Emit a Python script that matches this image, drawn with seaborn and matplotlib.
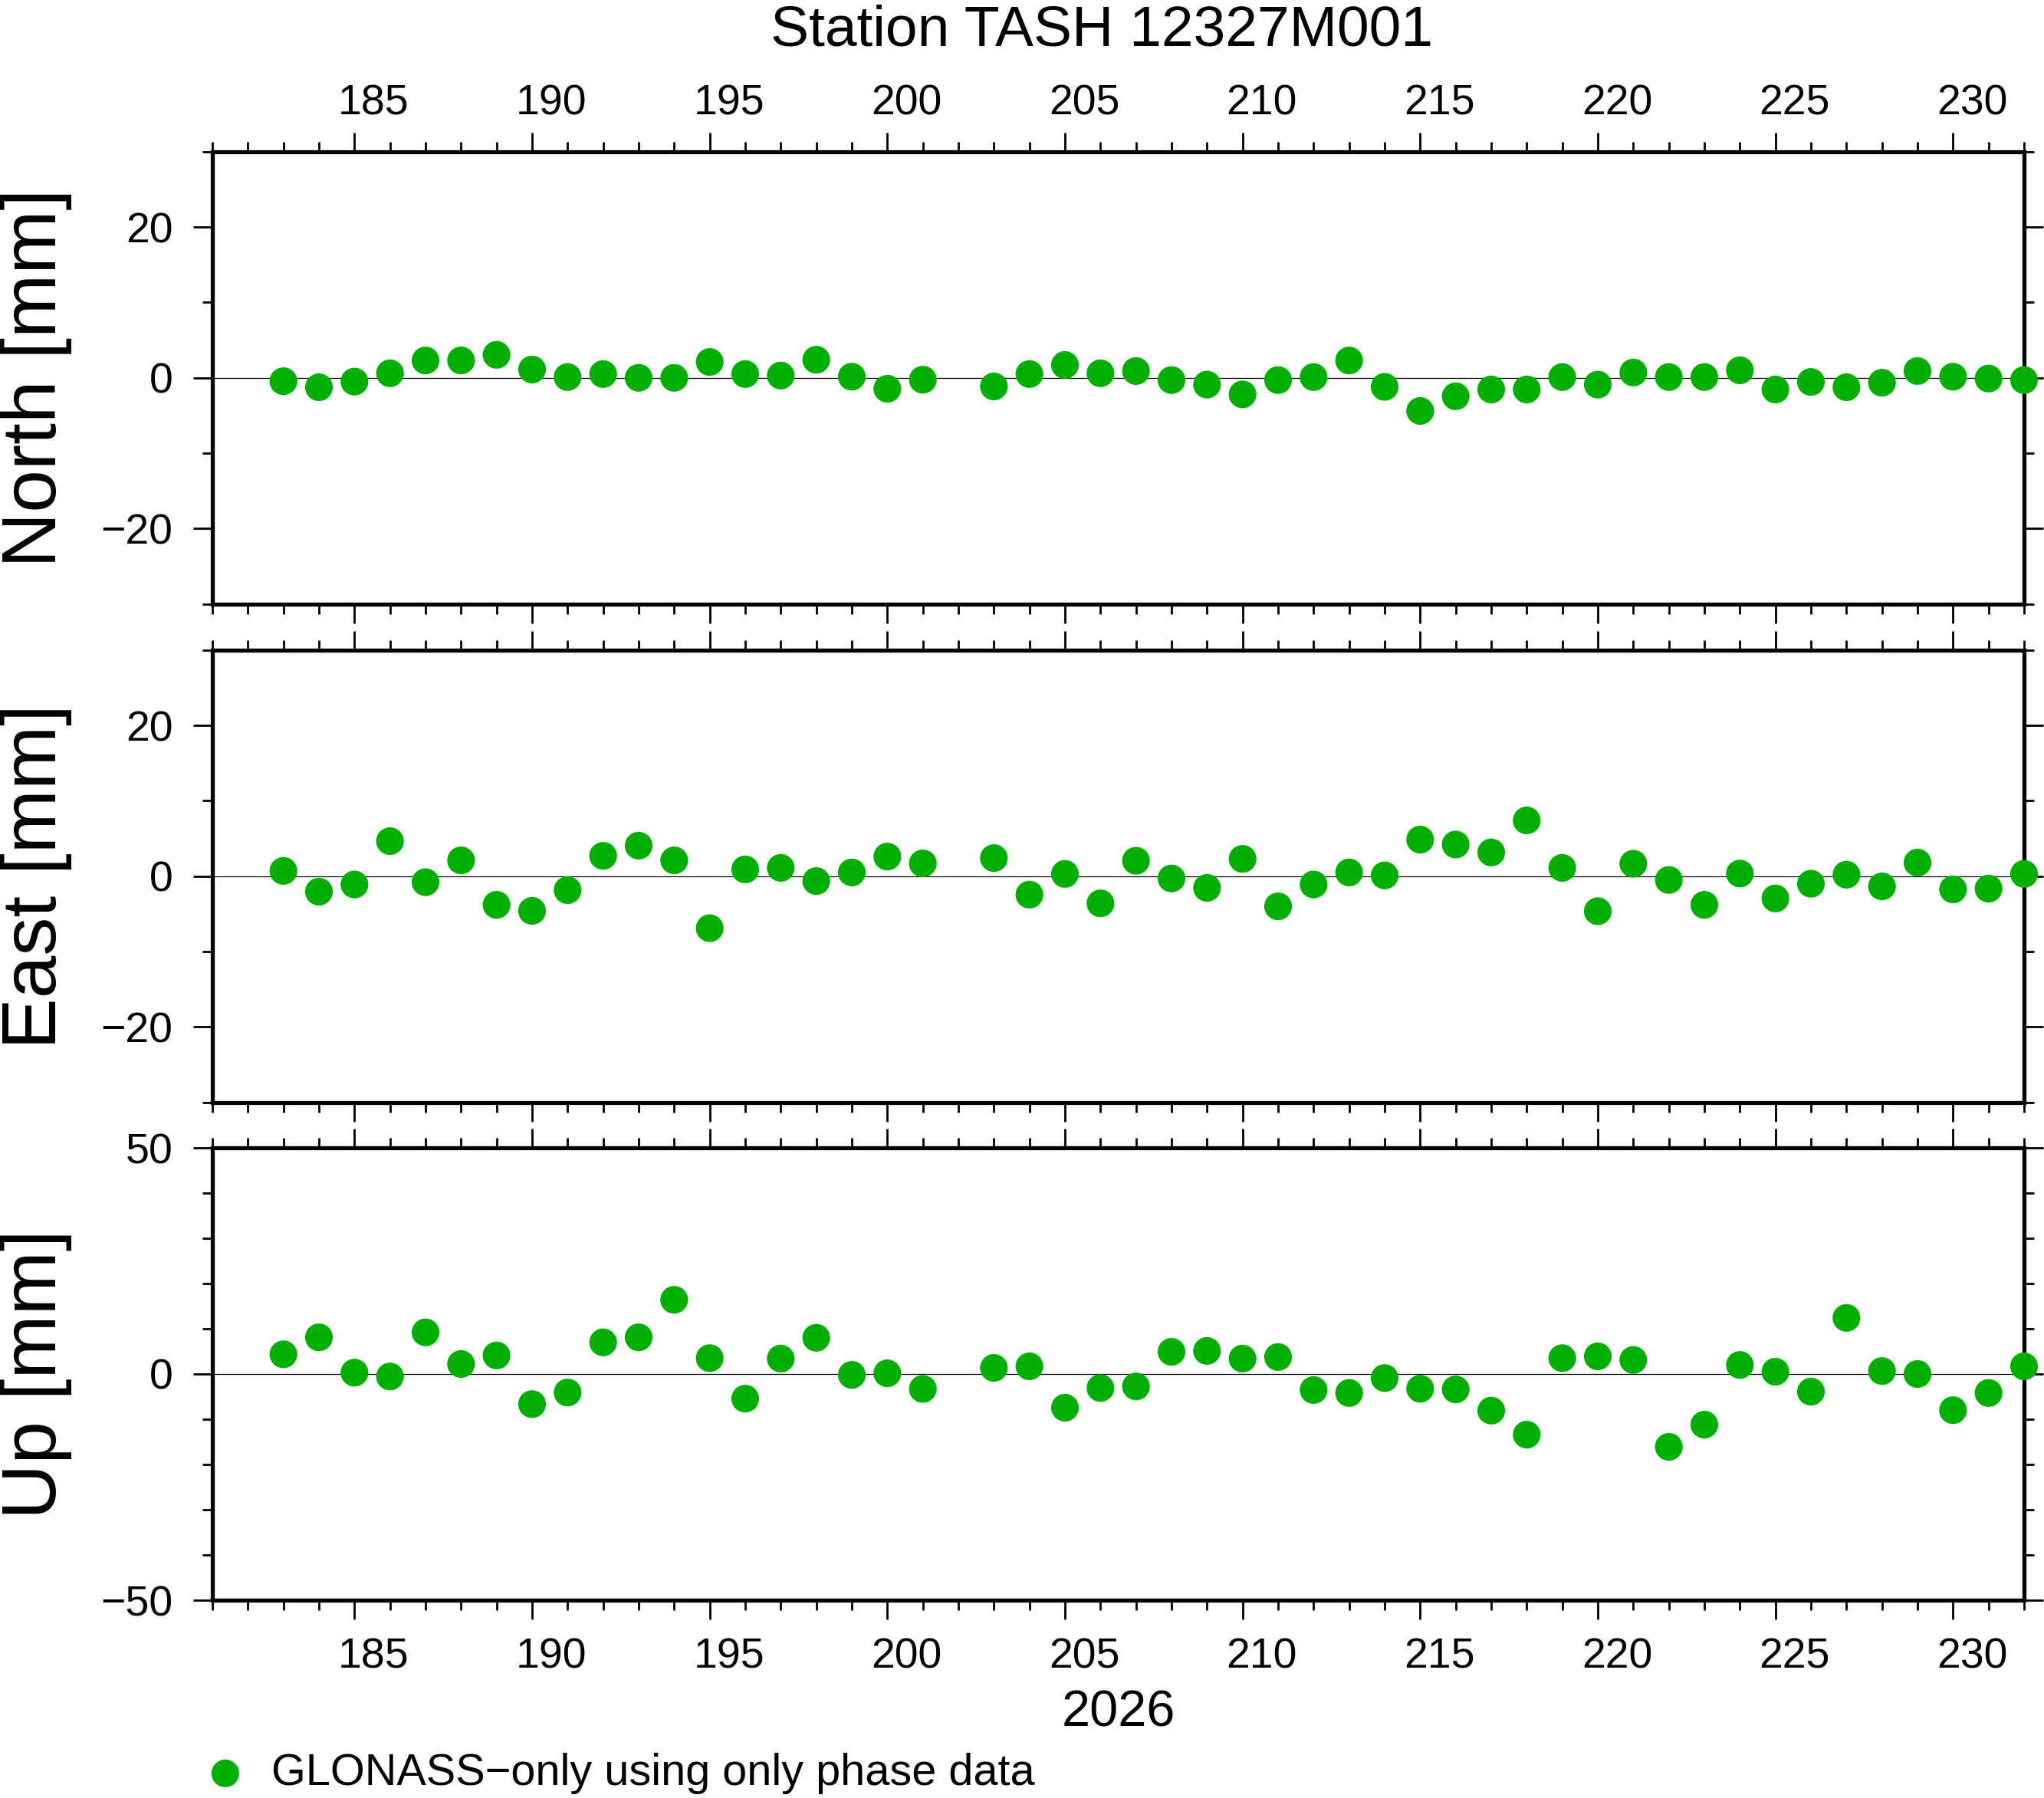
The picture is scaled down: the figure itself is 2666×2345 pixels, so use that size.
import matplotlib
matplotlib.use("Agg")
import matplotlib.pyplot as plt
import matplotlib.transforms as mtransforms
from matplotlib.ticker import MultipleLocator, FixedLocator
import seaborn as sns
import pandas as pd

# ---------------- data ----------------
days = [183, 184, 185, 186, 187, 188, 189, 190, 191, 192, 193, 194, 195, 196,
        197, 198, 199, 200, 201,
        203, 204, 205, 206, 207, 208, 209, 210, 211, 212, 213, 214, 215, 216,
        217, 218, 219, 220, 221, 222, 223, 224, 225, 226, 227, 228, 229, 230,
        231, 232]

north = [-0.45, -1.25, -0.5, 0.6, 2.3, 2.3, 3.05, 1.1, 0.1, 0.5, 0.0, 0.0,
         2.1, 0.5, 0.3, 2.4, 0.15, -1.45, -0.25,
         -1.15, 0.5, 1.7, 0.6, 0.9, -0.3, -0.9, -2.2, -0.3, 0.1, 2.3, -1.2,
         -4.4, -2.45, -1.55, -1.55, 0.1, -0.9, 0.7, 0.1, 0.1, 1.0, -1.55,
         -0.55, -1.25, -0.65, 0.9, 0.15, -0.1, -0.3]

east = [0.7, -2.05, -1.1, 4.65, -0.8, 2.1, -3.8, -4.6, -1.85, 2.7, 4.05, 2.1,
        -6.9, 0.9, 1.1, -0.65, 0.5, 2.6, 1.7,
        2.4, -2.45, 0.3, -3.6, 2.05, -0.3, -1.55, 2.3, -4.0, -1.1, 0.5, 0.1,
        4.85, 4.2, 3.15, 7.4, 1.1, -4.65, 1.65, -0.5, -3.8, 0.35, -2.95,
        -1.0, 0.2, -1.35, 1.8, -1.75, -1.65, 0.3]

up = [4.35, 8.1, 0.3, -0.55, 9.2, 2.2, 4.1, -6.65, -4.1, 7.0, 8.1, 16.4,
      3.5, -5.45, 3.4, 8.0, -0.2, 0.15, -3.3,
      1.35, 1.7, -7.45, -3.1, -2.75, 4.9, 5.1, 3.4, 3.75, -3.55, -4.2, -0.9,
      -3.25, -3.4, -8.1, -13.4, 3.5, 3.9, 3.1, -16.1, -11.2, 2.0, 0.5, -3.9,
      12.4, 0.65, 0.0, -8.0, -4.2, 1.7]

x_ticks = [185, 190, 195, 200, 205, 210, 215, 220, 225, 230]
x_limits = (181, 232)
panel_names = ["North [mm]", "East [mm]", "Up [mm]"]
panel_limits = [(-30, 30), (-30, 30), (-50, 50)]
panel_major = [[-20, 0, 20], [-20, 0, 20], [-50, 0, 50]]
title = "Station TASH 12327M001"
year_label = "2026"
legend_label = "GLONASS\u2212only using only phase data"
point_color = "#00B000"

df = pd.DataFrame({"day": days, "North [mm]": north,
                   "East [mm]": east, "Up [mm]": up})

# ---------------- style ----------------
sns.set_style("white")
plt.rcParams["font.family"] = ["Liberation Sans", "DejaVu Sans"]
plt.rcParams["axes.unicode_minus"] = True
plt.rcParams["text.color"] = "black"
plt.rcParams["axes.labelcolor"] = "black"
plt.rcParams["xtick.color"] = "black"
plt.rcParams["ytick.color"] = "black"

W, H = 2666, 2345
fig = plt.figure(figsize=(W / 100, H / 100), dpi=100)

left = 277 / W
width = (2640 - 277) / W
panel_px = [(197.8, 787.7), (847.8, 1437.7), (1497.0, 2087.0)]

tick_fs = 40
offset = mtransforms.ScaledTranslation(0.25, 0, fig.dpi_scale_trans)

axes = []
for i, (name, lim, major, (ytop, ybot)) in enumerate(
        zip(panel_names, panel_limits, panel_major, panel_px)):
    ax = fig.add_axes([left, 1 - ybot / H, width, (ybot - ytop) / H])
    ax.axhline(0, color="black", lw=0.9, zorder=1)
    sns.scatterplot(data=df, x="day", y=name, ax=ax, color=point_color,
                    s=26 ** 2, linewidth=0, edgecolor="none", zorder=3,
                    label=legend_label if i == 0 else None, legend=False)
    for coll in ax.collections:
        coll.set_clip_on(False)
    ax.set_xlim(*x_limits)
    ax.set_ylim(*lim)
    ax.set_xlabel("")
    ax.set_ylabel("")
    for sp in ax.spines.values():
        sp.set_linewidth(3.8)
        sp.set_color("black")
        sp.set_visible(True)
    ax.xaxis.set_major_locator(FixedLocator(x_ticks))
    ax.xaxis.set_minor_locator(MultipleLocator(1))
    ax.yaxis.set_major_locator(FixedLocator(major))
    ax.yaxis.set_minor_locator(MultipleLocator(10))
    ax.tick_params(axis="both", which="both", direction="out", width=2.0,
                   color="black", labelsize=tick_fs, labelcolor="black")
    ax.tick_params(axis="both", which="major", length=18)
    ax.tick_params(axis="both", which="minor", length=9.5)
    ax.tick_params(axis="x", which="both", top=True, bottom=True,
                   labeltop=(i == 0), labelbottom=(i == 2))
    ax.tick_params(axis="y", which="both", left=True, right=True,
                   labelleft=True, labelright=False, pad=19)
    if i == 0:
        ax.tick_params(axis="x", which="major", pad=8)
    elif i == 2:
        ax.tick_params(axis="x", which="major", pad=17)
    ax.set_yticks(major)
    ax.set_yticklabels([f"{v:d}".replace("-", "\u2212") for v in major])
    ax.set_xticks(x_ticks)
    ax.set_xticklabels([str(v) for v in x_ticks])
    ax.grid(False)
    fig.text(47 / W, 1 - (ytop + ybot) / 2 / H, name, rotation=90,
             ha="center", va="center", fontsize=72, color="black")
    axes.append(ax)

# shift x tick labels right (as in reference)
fig.canvas.draw()
for i, ax in enumerate(axes):
    for tick in ax.xaxis.get_major_ticks():
        tick.label1.set_transform(tick.label1.get_transform() + offset)
        tick.label2.set_transform(tick.label2.get_transform() + offset)

fig.text(0.539, 1 - 59 / H, title, ha="center", va="baseline", fontsize=54,
         color="black")
fig.text((277 + 2640) / 2 / W, 1 - 2251 / H, year_label, ha="center",
         va="baseline", fontsize=48, color="black")

handles, labels = axes[0].get_legend_handles_labels()
if not handles:
    from matplotlib.lines import Line2D
    handles = [Line2D([], [], ls="none", marker="o", ms=26, color=point_color)]
    labels = [legend_label]
leg = fig.legend(handles, labels, loc="center left",
                 bbox_to_anchor=(265 / W, 1 - 2313 / H), frameon=False,
                 borderaxespad=0, borderpad=0, handlelength=1.0,
                 handletextpad=0.55, fontsize=41.5, markerscale=1.0)
for t in leg.get_texts():
    t.set_color("black")

fig.savefig("out.png", dpi=100)
